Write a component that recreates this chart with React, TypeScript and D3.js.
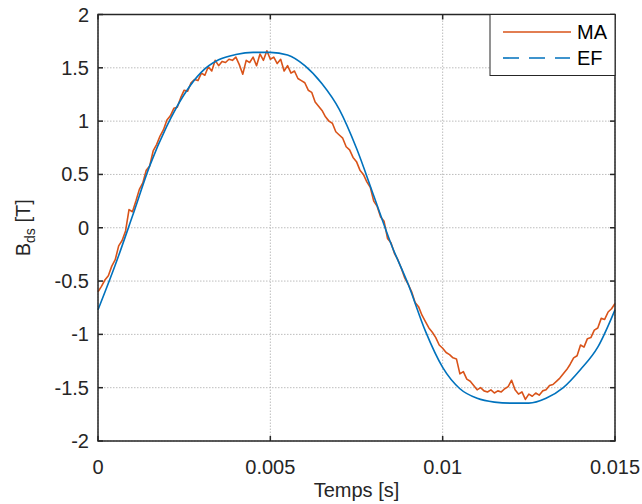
import React from "react";
import * as d3 from "d3";

// EF (finite-element) curve
const efTime = [0, 0.0005, 0.001, 0.0015, 0.002, 0.0025, 0.003, 0.0035, 0.004, 0.0045, 0.005, 0.0055, 0.006, 0.0065, 0.007, 0.0075, 0.008, 0.0085, 0.009, 0.0095, 0.01, 0.0105, 0.011, 0.0115, 0.012, 0.0125, 0.013, 0.0135, 0.014, 0.0145, 0.015];
const efValues = [-0.77, -0.35, 0.11, 0.58, 0.955, 1.25, 1.46, 1.575, 1.625, 1.645, 1.645, 1.62, 1.52, 1.35, 1.11, 0.745, 0.3, -0.15, -0.53, -0.97, -1.31, -1.51, -1.6, -1.635, -1.645, -1.645, -1.6, -1.5, -1.33, -1.12, -0.77];

// MA (measured) curve, sampled every 0.1 ms
const maStep = 0.0001;
const maValues = [
  -0.60, -0.55, -0.49, -0.45, -0.36, -0.30, -0.17, -0.12, -0.03, 0.17,
  0.15, 0.25, 0.36, 0.42, 0.54, 0.58, 0.72, 0.78, 0.86, 0.92,
  1.01, 1.05, 1.12, 1.13, 1.22, 1.29, 1.28, 1.36, 1.39, 1.38,
  1.45, 1.43, 1.51, 1.47, 1.57, 1.52, 1.56, 1.55, 1.58, 1.57,
  1.60, 1.53, 1.44, 1.57, 1.55, 1.60, 1.52, 1.63, 1.57, 1.66,
  1.58, 1.60, 1.54, 1.58, 1.47, 1.52, 1.45, 1.47, 1.40, 1.38,
  1.36, 1.29, 1.27, 1.18, 1.14, 1.10, 1.04, 1.00, 0.98, 0.90,
  0.87, 0.84, 0.76, 0.73, 0.66, 0.62, 0.54, 0.50, 0.43, 0.38,
  0.25, 0.20, 0.10, 0.06, -0.10, -0.14, -0.24, -0.30, -0.38, -0.47,
  -0.53, -0.60, -0.70, -0.74, -0.82, -0.88, -0.94, -0.98, -1.03, -1.10,
  -1.13, -1.17, -1.19, -1.22, -1.23, -1.37, -1.35, -1.42, -1.44, -1.48,
  -1.52, -1.50, -1.53, -1.54, -1.52, -1.55, -1.53, -1.54, -1.51, -1.49,
  -1.43, -1.52, -1.56, -1.54, -1.61, -1.56, -1.58, -1.55, -1.57, -1.53,
  -1.52, -1.48, -1.47, -1.44, -1.41, -1.37, -1.33, -1.28, -1.22, -1.20,
  -1.10, -1.12, -1.04, -1.03, -0.96, -0.94, -0.85, -0.86, -0.79, -0.76,
  -0.71,
];

const xTicks = [0, 0.005, 0.01, 0.015];
const xTickLabels = ["0", "0.005", "0.01", "0.015"];
const yTicks = [-2, -1.5, -1, -0.5, 0, 0.5, 1, 1.5, 2];
const yTickLabels = ["-2", "-1.5", "-1", "-0.5", "0", "0.5", "1", "1.5", "2"];
const legendLabels = ["MA", "EF"];

const W = 642, H = 504;
const L = 98, R = 615, T = 14.5, B = 441;
const FONT = "'Liberation Sans', Arial, Helvetica, sans-serif";
const AX = "#262626";
const C_MA = "#D95319";
const C_EF = "#0072BD";
const FS = 20;

export default function App() {
  const x = d3.scaleLinear().domain([0, 0.015]).range([L, R]);
  const y = d3.scaleLinear().domain([-2, 2]).range([B, T]);

  const efData = efTime.map((t, i) => [t, efValues[i]] as [number, number]);
  const maData = maValues.map((v, i) => [i * maStep, v] as [number, number]);

  const efLine = d3.line<[number, number]>().x(d => x(d[0])).y(d => y(d[1])).curve(d3.curveMonotoneX);
  const maLine = d3.line<[number, number]>().x(d => x(d[0])).y(d => y(d[1]));

  const tick = 5;
  return (
    <svg width={W} height={H} style={{ position: "absolute", left: 0, top: 0, background: "#fff" }} fontFamily={FONT}>
      <rect x={0} y={0} width={W} height={H} fill="#fff" />
      {/* grid */}
      {xTicks.map((t, i) => (
        <line key={"gx" + i} x1={x(t)} x2={x(t)} y1={T} y2={B} stroke="#bdbdbd" strokeWidth={1} strokeDasharray="1.5 1.5" />
      ))}
      {yTicks.map((t, i) => (
        <line key={"gy" + i} x1={L} x2={R} y1={y(t)} y2={y(t)} stroke="#bdbdbd" strokeWidth={1} strokeDasharray="1.5 1.5" />
      ))}
      {/* data */}
      <path d={maLine(maData) || ""} fill="none" stroke={C_MA} strokeWidth={1.6} strokeLinejoin="round" />
      <path d={efLine(efData) || ""} fill="none" stroke={C_EF} strokeWidth={1.6} />
      {/* box */}
      <rect x={L} y={T} width={R - L} height={B - T} fill="none" stroke={AX} strokeWidth={1.5} />
      {/* ticks */}
      {xTicks.map((t, i) => (
        <g key={"tx" + i}>
          <line x1={x(t)} x2={x(t)} y1={B} y2={B - tick} stroke={AX} strokeWidth={1.5} />
          <line x1={x(t)} x2={x(t)} y1={T} y2={T + tick} stroke={AX} strokeWidth={1.5} />
          <text x={x(t)} y={474} textAnchor="middle" fontSize={FS} fill={AX}>{xTickLabels[i]}</text>
        </g>
      ))}
      {yTicks.map((t, i) => (
        <g key={"ty" + i}>
          <line x1={L} x2={L + tick} y1={y(t)} y2={y(t)} stroke={AX} strokeWidth={1.5} />
          <line x1={R} x2={R - tick} y1={y(t)} y2={y(t)} stroke={AX} strokeWidth={1.5} />
          <text x={89} y={y(t) + 7} textAnchor="end" fontSize={FS} fill={AX}>{yTickLabels[i]}</text>
        </g>
      ))}
      {/* axis labels */}
      <text x={(L + R) / 2} y={497} textAnchor="middle" fontSize={FS} fill={AX}>Temps [s]</text>
      <text transform={`translate(30, ${(T + B) / 2}) rotate(-90)`} textAnchor="middle" fontSize={FS} fill={AX}>
        B<tspan fontSize={14} dy={5}>ds</tspan><tspan dy={-5}> [T]</tspan>
      </text>
      {/* legend */}
      <rect x={490} y={T} width={R - 490} height={61} fill="#fff" stroke={AX} strokeWidth={1} />
      <line x1={503} x2={571} y1={32} y2={32} stroke={C_MA} strokeWidth={1.6} />
      <text x={577} y={39} fontSize={FS} fill="#000">{legendLabels[0]}</text>
      <line x1={503} x2={570} y1={58} y2={58} stroke={C_EF} strokeWidth={1.6} strokeDasharray="16 10" />
      <text x={577} y={65} fontSize={FS} fill="#000">{legendLabels[1]}</text>
    </svg>
  );
}
